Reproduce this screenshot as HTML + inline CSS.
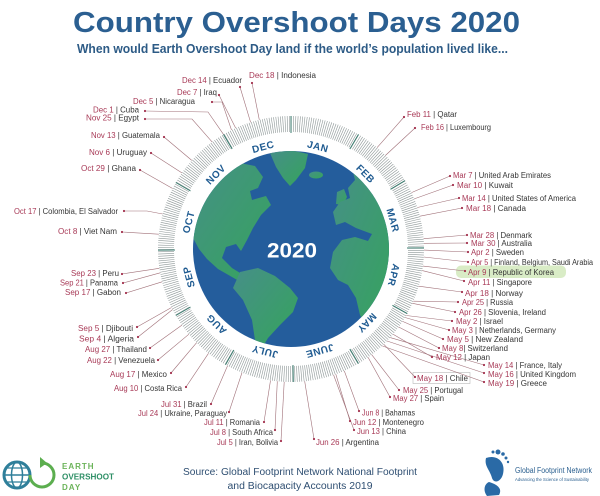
<!DOCTYPE html>
<html><head><meta charset="utf-8"><style>
html,body{margin:0;padding:0;background:#fff;}
svg{display:block;}
text{font-family:"Liberation Sans",sans-serif;}
.l text{font-size:8px;}
.d{fill:#a83a57;}
.c{fill:#353535;}
</style></head><body>
<svg width="600" height="496" viewBox="0 0 600 496" xmlns="http://www.w3.org/2000/svg">
<defs>
<clipPath id="g"><circle cx="291" cy="249" r="98"/></clipPath>
<linearGradient id="land" x1="0" y1="0" x2="1" y2="1">
<stop offset="0" stop-color="#468f88"/><stop offset="1" stop-color="#35a45c"/>
</linearGradient>
</defs>
<rect width="600" height="496" fill="#fff"/>
<text x="73" y="32" font-size="29" font-weight="bold" fill="#2b5f91" textLength="447" lengthAdjust="spacingAndGlyphs">Country Overshoot Days 2020</text>
<text x="77" y="53" font-size="12.5" font-weight="bold" fill="#2d5b86" textLength="431" lengthAdjust="spacingAndGlyphs">When would Earth Overshoot Day land if the world’s population lived like...</text>

<!-- tick ring -->
<circle cx="291" cy="249" r="125" fill="none" stroke="#8c9696" stroke-width="16" stroke-dasharray="0.6 1.546" transform="rotate(-90 291 249)"/>
<g stroke="#3c7d70" stroke-width="1">
<line x1="291" y1="116" x2="291" y2="133" transform="rotate(0 291 249)"/>
<line x1="291" y1="116" x2="291" y2="133" transform="rotate(30.49 291 249)"/>
<line x1="291" y1="116" x2="291" y2="133" transform="rotate(59.02 291 249)"/>
<line x1="291" y1="116" x2="291" y2="133" transform="rotate(89.51 291 249)"/>
<line x1="291" y1="116" x2="291" y2="133" transform="rotate(119.02 291 249)"/>
<line x1="291" y1="116" x2="291" y2="133" transform="rotate(149.51 291 249)"/>
<line x1="291" y1="116" x2="291" y2="133" transform="rotate(179.02 291 249)"/>
<line x1="291" y1="116" x2="291" y2="133" transform="rotate(209.51 291 249)"/>
<line x1="291" y1="116" x2="291" y2="133" transform="rotate(240 291 249)"/>
<line x1="291" y1="116" x2="291" y2="133" transform="rotate(269.51 291 249)"/>
<line x1="291" y1="116" x2="291" y2="133" transform="rotate(300 291 249)"/>
<line x1="291" y1="116" x2="291" y2="133" transform="rotate(329.51 291 249)"/>
</g>

<!-- month labels -->
<g font-size="10" font-weight="bold" fill="#1f5b91" text-anchor="middle" letter-spacing="0.5">
<text x="291" y="146.5" transform="rotate(14.75 291 249)">JAN</text>
<text x="291" y="146.5" transform="rotate(44.75 291 249)">FEB</text>
<text x="291" y="146.5" transform="rotate(74.26 291 249)">MAR</text>
<text x="291" y="146.5" transform="rotate(104.26 291 249)">APR</text>
<text x="291" y="146.5" transform="rotate(134.26 291 249)">MAY</text>
<text x="291" y="146.5" transform="rotate(164.26 291 249)">JUNE</text>
<text x="291" y="146.5" transform="rotate(194.26 291 249)">JULY</text>
<text x="291" y="146.5" transform="rotate(224.75 291 249)">AUG</text>
<text x="291" y="146.5" transform="rotate(254.75 291 249)">SEP</text>
<text x="291" y="146.5" transform="rotate(284.75 291 249)">OCT</text>
<text x="291" y="146.5" transform="rotate(314.75 291 249)">NOV</text>
<text x="291" y="146.5" transform="rotate(344.75 291 249)">DEC</text>
</g>

<!-- globe -->
<circle cx="291" cy="249" r="98" fill="#245d9c"/>
<g clip-path="url(#g)" fill="url(#land)">
<path d="M270,153 L290,150 L308,154 L305,168 L296,180 L290,186 L283,178 L276,167 Z"/>
<ellipse cx="316" cy="175" rx="7" ry="3.5"/>
<path d="M337,192 L344,189 L347,197 L343,205 L336,204 Z"/>
<path d="M186,190 L200,178 L215,169 L235,162 L255,166 L263,177 L258,188 L250,191 L252,200 L266,196 L271,205 L261,215 L253,228 L247,240 L241,251 L236,244 L226,247 L222,258 L232,268 L245,276 L251,281 L246,285 L232,277 L218,269 L207,259 L199,249 L192,236 L186,220 Z"/>
<path d="M240,272 L258,268 L275,276 L290,288 L298,298 L293,312 L280,325 L268,338 L262,348 L255,340 L252,320 L243,300 L233,288 Z"/>
<path d="M352,168 L366,162 L378,169 L386,178 L395,188 L395,300 L382,318 L368,330 L360,315 L356,298 L348,285 L338,280 L330,268 L333,252 L342,240 L355,237 L368,241 L372,234 L356,228 L345,222 L336,225 L333,212 L340,202 L350,198 L348,188 L355,180 Z"/>
</g>
<text x="292" y="257.5" font-size="21" font-weight="bold" fill="#fff" text-anchor="middle" textLength="50" lengthAdjust="spacingAndGlyphs">2020</text>

<!-- highlight -->
<rect x="456" y="265.5" width="110" height="12.5" rx="5" fill="#d9ecc6"/>
<rect x="413" y="372.5" width="57" height="11" fill="none" stroke="#b8b8b8" stroke-width="0.6"/>

<!-- leader lines -->
<g stroke="#a07078" stroke-width="0.6" fill="none">
<line x1="240" y1="87" x2="250.6" y2="122.3"/>
<line x1="252" y1="83" x2="259.3" y2="119.8"/>
<line x1="219" y1="95" x2="235.7" y2="128.1"/>
<polyline points="212,102 222,102 231.5,130"/>
<polyline points="145,111 208,112 223.5,134.4"/>
<polyline points="145,119 192,119 212.1,141.9"/>
<line x1="164" y1="137" x2="191.8" y2="160.4"/>
<line x1="151" y1="153" x2="181.9" y2="172.9"/>
<line x1="140" y1="170" x2="172.6" y2="188.5"/>
<polyline points="124,211 147,211 162.7,214"/>
<line x1="122" y1="232" x2="158.8" y2="234.2"/>
<line x1="122" y1="274" x2="159.4" y2="268.3"/>
<line x1="123" y1="283" x2="160.2" y2="272.8"/>
<line x1="126" y1="293" x2="162.1" y2="281.8"/>
<line x1="137" y1="327" x2="171.5" y2="307.5"/>
<line x1="138" y1="337" x2="172.6" y2="309.5"/>
<line x1="150" y1="348" x2="181.9" y2="325.1"/>
<line x1="158" y1="360" x2="188.9" y2="334.2"/>
<line x1="171" y1="373" x2="196.6" y2="342.7"/>
<line x1="186" y1="387" x2="208.5" y2="353.3"/>
<line x1="211" y1="404" x2="227.5" y2="365.9"/>
<line x1="229" y1="412" x2="242" y2="372.6"/>
<line x1="264" y1="422" x2="270.5" y2="380.4"/>
<line x1="275" y1="430" x2="277.3" y2="381.3"/>
<line x1="281" y1="441" x2="284.2" y2="381.8"/>
<line x1="314" y1="439" x2="304.7" y2="381.3"/>
<line x1="359" y1="411" x2="344.3" y2="370.9"/>
<line x1="350" y1="421" x2="335.8" y2="374.2"/>
<line x1="354" y1="430" x2="333.6" y2="375"/>
<line x1="399" y1="390" x2="371.7" y2="354.7"/>
<line x1="390" y1="397" x2="368.1" y2="357.4"/>
<line x1="415" y1="377" x2="383.8" y2="344.3"/>
<line x1="484" y1="365" x2="390.2" y2="337.6"/>
<line x1="484" y1="373" x2="387" y2="341"/>
<line x1="484" y1="382" x2="382.2" y2="345.9"/>
<line x1="432" y1="357" x2="393.1" y2="334.2"/>
<line x1="439" y1="348" x2="398.7" y2="327"/>
<line x1="443" y1="339" x2="402.6" y2="321.4"/>
<line x1="449" y1="330" x2="405" y2="317.5"/>
<line x1="452" y1="321" x2="406.2" y2="315.5"/>
<line x1="455" y1="312" x2="412.4" y2="303.3"/>
<line x1="458" y1="302" x2="413.3" y2="301.2"/>
<line x1="462" y1="292" x2="418.7" y2="286.2"/>
<line x1="464" y1="281" x2="422.2" y2="270.6"/>
<line x1="465" y1="271" x2="422.9" y2="266.1"/>
<line x1="468" y1="262" x2="423.8" y2="257"/>
<line x1="468" y1="252" x2="424" y2="250.1"/>
<line x1="467" y1="243" x2="423.9" y2="243.3"/>
<line x1="467" y1="235" x2="423.6" y2="238.7"/>
<line x1="462" y1="208" x2="419.9" y2="216.2"/>
<line x1="459" y1="198" x2="417.4" y2="207.5"/>
<line x1="453" y1="185" x2="414.2" y2="198.9"/>
<line x1="450" y1="176" x2="411.5" y2="192.6"/>
<line x1="415" y1="128" x2="385.5" y2="155.4"/>
<line x1="404" y1="117" x2="377.1" y2="147.6"/>
</g>
<g fill="#a3324e">
<circle cx="240" cy="87" r="1.1"/><circle cx="252" cy="83" r="1.1"/><circle cx="219" cy="95" r="1.1"/><circle cx="212" cy="102" r="1.1"/><circle cx="145" cy="111" r="1.1"/><circle cx="145" cy="119" r="1.1"/><circle cx="164" cy="137" r="1.1"/><circle cx="151" cy="153" r="1.1"/><circle cx="140" cy="170" r="1.1"/><circle cx="124" cy="211" r="1.1"/><circle cx="122" cy="232" r="1.1"/><circle cx="122" cy="274" r="1.1"/><circle cx="123" cy="283" r="1.1"/><circle cx="126" cy="293" r="1.1"/><circle cx="137" cy="327" r="1.1"/><circle cx="138" cy="337" r="1.1"/><circle cx="150" cy="348" r="1.1"/><circle cx="158" cy="360" r="1.1"/><circle cx="171" cy="373" r="1.1"/><circle cx="186" cy="387" r="1.1"/><circle cx="211" cy="404" r="1.1"/><circle cx="229" cy="412" r="1.1"/><circle cx="264" cy="422" r="1.1"/><circle cx="275" cy="430" r="1.1"/><circle cx="281" cy="441" r="1.1"/><circle cx="314" cy="439" r="1.1"/><circle cx="359" cy="411" r="1.1"/><circle cx="350" cy="421" r="1.1"/><circle cx="354" cy="430" r="1.1"/><circle cx="399" cy="390" r="1.1"/><circle cx="390" cy="397" r="1.1"/><circle cx="415" cy="377" r="1.1"/><circle cx="484" cy="365" r="1.1"/><circle cx="484" cy="373" r="1.1"/><circle cx="484" cy="382" r="1.1"/><circle cx="432" cy="357" r="1.1"/><circle cx="439" cy="348" r="1.1"/><circle cx="443" cy="339" r="1.1"/><circle cx="449" cy="330" r="1.1"/><circle cx="452" cy="321" r="1.1"/><circle cx="455" cy="312" r="1.1"/><circle cx="458" cy="302" r="1.1"/><circle cx="462" cy="292" r="1.1"/><circle cx="464" cy="281" r="1.1"/><circle cx="465" cy="271" r="1.1"/><circle cx="468" cy="262" r="1.1"/><circle cx="468" cy="252" r="1.1"/><circle cx="467" cy="243" r="1.1"/><circle cx="467" cy="235" r="1.1"/><circle cx="462" cy="208" r="1.1"/><circle cx="459" cy="198" r="1.1"/><circle cx="453" cy="185" r="1.1"/><circle cx="450" cy="176" r="1.1"/><circle cx="415" cy="128" r="1.1"/><circle cx="404" cy="117" r="1.1"/>
</g>

<!-- labels -->
<g class="l">
<text x="182" y="82.8" textLength="60" lengthAdjust="spacingAndGlyphs"><tspan class="d">Dec 14</tspan><tspan class="c"> | Ecuador</tspan></text>
<text x="249" y="77.8" textLength="67" lengthAdjust="spacingAndGlyphs"><tspan class="d">Dec 18</tspan><tspan class="c"> | Indonesia</tspan></text>
<text x="177" y="94.8" textLength="40" lengthAdjust="spacingAndGlyphs"><tspan class="d">Dec 7</tspan><tspan class="c"> | Iraq</tspan></text>
<text x="133" y="103.8" textLength="62" lengthAdjust="spacingAndGlyphs"><tspan class="d">Dec 5</tspan><tspan class="c"> | Nicaragua</tspan></text>
<text x="93" y="112.5" textLength="46" lengthAdjust="spacingAndGlyphs"><tspan class="d">Dec 1</tspan><tspan class="c"> | Cuba</tspan></text>
<text x="86" y="120.5" textLength="53" lengthAdjust="spacingAndGlyphs"><tspan class="d">Nov 25</tspan><tspan class="c"> | Egypt</tspan></text>
<text x="91" y="137.8" textLength="69" lengthAdjust="spacingAndGlyphs"><tspan class="d">Nov 13</tspan><tspan class="c"> | Guatemala</tspan></text>
<text x="89" y="154.8" textLength="58" lengthAdjust="spacingAndGlyphs"><tspan class="d">Nov 6</tspan><tspan class="c"> | Uruguay</tspan></text>
<text x="81" y="170.8" textLength="55" lengthAdjust="spacingAndGlyphs"><tspan class="d">Oct 29</tspan><tspan class="c"> | Ghana</tspan></text>
<text x="14" y="213.8" textLength="104" lengthAdjust="spacingAndGlyphs"><tspan class="d">Oct 17</tspan><tspan class="c"> | Colombia, El Salvador</tspan></text>
<text x="58" y="233.8" textLength="59" lengthAdjust="spacingAndGlyphs"><tspan class="d">Oct 8</tspan><tspan class="c"> | Viet Nam</tspan></text>
<text x="71" y="275.8" textLength="48" lengthAdjust="spacingAndGlyphs"><tspan class="d">Sep 23</tspan><tspan class="c"> | Peru</tspan></text>
<text x="60" y="285.3" textLength="58" lengthAdjust="spacingAndGlyphs"><tspan class="d">Sep 21</tspan><tspan class="c"> | Panama</tspan></text>
<text x="65" y="294.8" textLength="56" lengthAdjust="spacingAndGlyphs"><tspan class="d">Sep 17</tspan><tspan class="c"> | Gabon</tspan></text>
<text x="78" y="330.8" textLength="55" lengthAdjust="spacingAndGlyphs"><tspan class="d">Sep 5</tspan><tspan class="c"> | Djibouti</tspan></text>
<text x="79" y="341.3" textLength="55" lengthAdjust="spacingAndGlyphs"><tspan class="d">Sep 4</tspan><tspan class="c"> | Algeria</tspan></text>
<text x="85" y="351.8" textLength="62" lengthAdjust="spacingAndGlyphs"><tspan class="d">Aug 27</tspan><tspan class="c"> | Thailand</tspan></text>
<text x="87" y="362.8" textLength="68" lengthAdjust="spacingAndGlyphs"><tspan class="d">Aug 22</tspan><tspan class="c"> | Venezuela</tspan></text>
<text x="110" y="376.8" textLength="57" lengthAdjust="spacingAndGlyphs"><tspan class="d">Aug 17</tspan><tspan class="c"> | Mexico</tspan></text>
<text x="114" y="390.8" textLength="68" lengthAdjust="spacingAndGlyphs"><tspan class="d">Aug 10</tspan><tspan class="c"> | Costa Rica</tspan></text>
<text x="161" y="406.8" textLength="46" lengthAdjust="spacingAndGlyphs"><tspan class="d">Jul 31</tspan><tspan class="c"> | Brazil</tspan></text>
<text x="138" y="415.8" textLength="89" lengthAdjust="spacingAndGlyphs"><tspan class="d">Jul 24</tspan><tspan class="c"> | Ukraine, Paraguay</tspan></text>
<text x="204" y="424.8" textLength="56" lengthAdjust="spacingAndGlyphs"><tspan class="d">Jul 11</tspan><tspan class="c"> | Romania</tspan></text>
<text x="210" y="434.8" textLength="63" lengthAdjust="spacingAndGlyphs"><tspan class="d">Jul 8</tspan><tspan class="c"> | South Africa</tspan></text>
<text x="217" y="444.8" textLength="61" lengthAdjust="spacingAndGlyphs"><tspan class="d">Jul 5</tspan><tspan class="c"> | Iran, Bolivia</tspan></text>
<text x="316" y="444.8" textLength="63" lengthAdjust="spacingAndGlyphs"><tspan class="d">Jun 26</tspan><tspan class="c"> | Argentina</tspan></text>
<text x="362" y="415.3" textLength="53" lengthAdjust="spacingAndGlyphs"><tspan class="d">Jun 8</tspan><tspan class="c"> | Bahamas</tspan></text>
<text x="353" y="424.8" textLength="71" lengthAdjust="spacingAndGlyphs"><tspan class="d">Jun 12</tspan><tspan class="c"> | Montenegro</tspan></text>
<text x="357" y="433.8" textLength="49" lengthAdjust="spacingAndGlyphs"><tspan class="d">Jun 13</tspan><tspan class="c"> | China</tspan></text>
<text x="403" y="392.8" textLength="60" lengthAdjust="spacingAndGlyphs"><tspan class="d">May 25</tspan><tspan class="c"> | Portugal</tspan></text>
<text x="393" y="401" textLength="51" lengthAdjust="spacingAndGlyphs"><tspan class="d">May 27</tspan><tspan class="c"> | Spain</tspan></text>
<text x="417" y="380.8" textLength="51" lengthAdjust="spacingAndGlyphs"><tspan class="d">May 18</tspan><tspan class="c"> | Chile</tspan></text>
<text x="488" y="367.8" textLength="74" lengthAdjust="spacingAndGlyphs"><tspan class="d">May 14</tspan><tspan class="c"> | France, Italy</tspan></text>
<text x="488" y="376.8" textLength="88" lengthAdjust="spacingAndGlyphs"><tspan class="d">May 16</tspan><tspan class="c"> | United Kingdom</tspan></text>
<text x="488" y="385.8" textLength="59" lengthAdjust="spacingAndGlyphs"><tspan class="d">May 19</tspan><tspan class="c"> | Greece</tspan></text>
<text x="436" y="359.8" textLength="54" lengthAdjust="spacingAndGlyphs"><tspan class="d">May 12</tspan><tspan class="c"> | Japan</tspan></text>
<text x="442" y="350.8" textLength="66" lengthAdjust="spacingAndGlyphs"><tspan class="d">May 8</tspan><tspan class="c">| Switzerland</tspan></text>
<text x="447" y="341.8" textLength="76" lengthAdjust="spacingAndGlyphs"><tspan class="d">May 5</tspan><tspan class="c"> | New Zealand</tspan></text>
<text x="452" y="332.8" textLength="104" lengthAdjust="spacingAndGlyphs"><tspan class="d">May 3</tspan><tspan class="c"> | Netherlands, Germany</tspan></text>
<text x="456" y="323.8" textLength="47" lengthAdjust="spacingAndGlyphs"><tspan class="d">May 2</tspan><tspan class="c"> | Israel</tspan></text>
<text x="459" y="314.8" textLength="87" lengthAdjust="spacingAndGlyphs"><tspan class="d">Apr 26</tspan><tspan class="c"> | Slovenia, Ireland</tspan></text>
<text x="462" y="304.8" textLength="51" lengthAdjust="spacingAndGlyphs"><tspan class="d">Apr 25</tspan><tspan class="c"> | Russia</tspan></text>
<text x="465" y="295.8" textLength="58" lengthAdjust="spacingAndGlyphs"><tspan class="d">Apr 18</tspan><tspan class="c"> | Norway</tspan></text>
<text x="468" y="284.8" textLength="64" lengthAdjust="spacingAndGlyphs"><tspan class="d">Apr 11</tspan><tspan class="c"> | Singapore</tspan></text>
<text x="468" y="274.8" textLength="86" lengthAdjust="spacingAndGlyphs"><tspan class="d">Apr 9</tspan><tspan class="c"> | Republic of Korea</tspan></text>
<text x="471" y="264.8" textLength="122" lengthAdjust="spacingAndGlyphs"><tspan class="d">Apr 5</tspan><tspan class="c"> | Finland, Belgium, Saudi Arabia</tspan></text>
<text x="471" y="254.8" textLength="53" lengthAdjust="spacingAndGlyphs"><tspan class="d">Apr 2</tspan><tspan class="c"> | Sweden</tspan></text>
<text x="471" y="245.8" textLength="61" lengthAdjust="spacingAndGlyphs"><tspan class="d">Mar 30</tspan><tspan class="c"> | Australia</tspan></text>
<text x="470" y="237.8" textLength="62" lengthAdjust="spacingAndGlyphs"><tspan class="d">Mar 28</tspan><tspan class="c"> | Denmark</tspan></text>
<text x="466" y="210.8" textLength="60" lengthAdjust="spacingAndGlyphs"><tspan class="d">Mar 18</tspan><tspan class="c"> | Canada</tspan></text>
<text x="462" y="200.8" textLength="114" lengthAdjust="spacingAndGlyphs"><tspan class="d">Mar 14</tspan><tspan class="c"> | United States of America</tspan></text>
<text x="457" y="187.8" textLength="56" lengthAdjust="spacingAndGlyphs"><tspan class="d">Mar 10</tspan><tspan class="c"> | Kuwait</tspan></text>
<text x="453" y="177.8" textLength="98" lengthAdjust="spacingAndGlyphs"><tspan class="d">Mar 7</tspan><tspan class="c"> | United Arab Emirates</tspan></text>
<text x="421" y="129.8" textLength="70" lengthAdjust="spacingAndGlyphs"><tspan class="d">Feb 16</tspan><tspan class="c"> | Luxembourg</tspan></text>
<text x="407" y="116.8" textLength="50" lengthAdjust="spacingAndGlyphs"><tspan class="d">Feb 11</tspan><tspan class="c"> | Qatar</tspan></text>
</g>

<!-- Earth Overshoot Day logo -->
<g fill="none" stroke-width="3">
<circle cx="17" cy="475" r="13" stroke="#2f7f9a"/>
<ellipse cx="17" cy="475" rx="5.5" ry="13" stroke="#2f7f9a" stroke-width="1.5"/>
<line x1="4" y1="475" x2="30" y2="475" stroke="#2f7f9a" stroke-width="1.5"/>
<line x1="6" y1="468" x2="28" y2="468" stroke="#2f7f9a" stroke-width="1.3"/>
<line x1="6" y1="482" x2="28" y2="482" stroke="#2f7f9a" stroke-width="1.3"/>
<path d="M30,475 A12,12 0 1 0 42,463" stroke="#5cae4f"/>
</g>
<path d="M40,457 L47,463 L40,468 Z" fill="#5cae4f"/>
<text x="62" y="469" font-size="8" font-weight="bold" fill="#6cb45a" letter-spacing="1">EARTH</text>
<text x="62" y="479.5" font-size="8.5" font-weight="bold" fill="#2e8f66" textLength="52" lengthAdjust="spacingAndGlyphs">OVERSHOOT</text>
<text x="62" y="490" font-size="8" font-weight="bold" fill="#6cb45a" letter-spacing="1">DAY</text>

<!-- source -->
<text x="300" y="475" font-size="10" fill="#2f4f72" text-anchor="middle" textLength="234" lengthAdjust="spacingAndGlyphs">Source: Global Footprint Network National Footprint</text>
<text x="300" y="489" font-size="10" fill="#2f4f72" text-anchor="middle" textLength="145" lengthAdjust="spacingAndGlyphs">and Biocapacity Accounts 2019</text>

<!-- Global Footprint Network logo -->
<g fill="#2a6aa6">
<path d="M486,458 C497,454 506,462 503,474 C501,482 494,484 492,478 C490,470 484,466 486,458 Z"/>
<path d="M489,482 C496,484 503,488 499,495 L487,496 C483,491 484,484 489,482 Z"/>
<circle cx="498" cy="452" r="2.5"/><circle cx="503" cy="454" r="1.8"/><circle cx="506" cy="458" r="1.5"/><circle cx="508" cy="462" r="1.2"/><circle cx="493" cy="452" r="1.5"/>
</g>
<text x="515" y="473" font-size="8" fill="#2a5f8f" textLength="77" lengthAdjust="spacingAndGlyphs">Global Footprint Network</text>
<text x="515" y="481" font-size="4.5" fill="#2a5f8f" textLength="74" lengthAdjust="spacingAndGlyphs">Advancing the Science of Sustainability</text>
</svg>
</body></html>
